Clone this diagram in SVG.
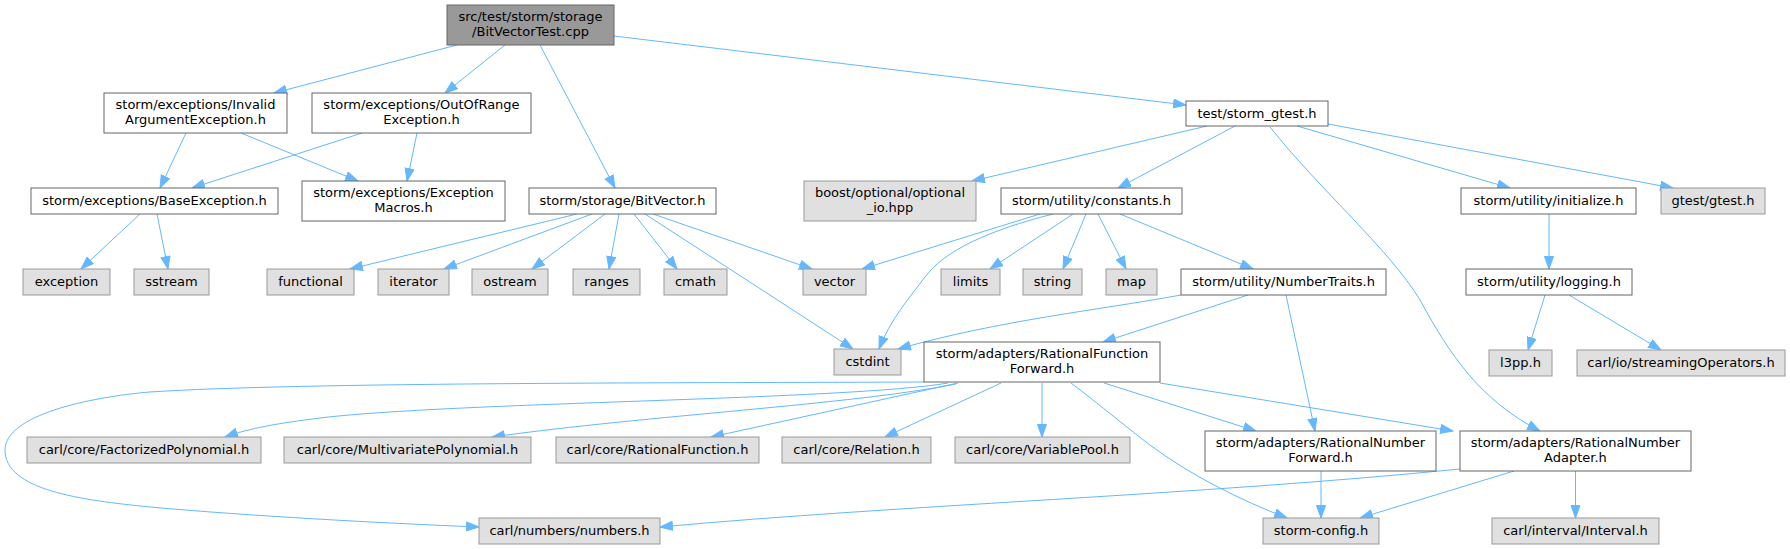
<svg xmlns="http://www.w3.org/2000/svg" width="1790" height="549" viewBox="0 0 1790 549">
<style>
text{font-family:"DejaVu Sans",sans-serif;font-size:13px;fill:#000;text-anchor:middle}
.n rect{fill:#fff;stroke:#666;stroke-width:1}
.g rect{fill:#e0e0e0;stroke:#999;stroke-width:1}
.m rect{fill:#999;stroke:#666;stroke-width:1}
#edges path{fill:none;stroke:#63b8ff;stroke-width:1;marker-end:url(#ah)}
</style>
<defs>
<marker id="ah" markerUnits="userSpaceOnUse" markerWidth="15" markerHeight="12" refX="13" refY="5" orient="auto">
<path d="M0.5,0.5 L13,5 L0.5,9.5 z" fill="#63b8ff" stroke="#63b8ff" stroke-width="1"/>
</marker>
</defs>
<rect width="1790" height="549" fill="#fff"/>
<g id="edges">
<path d="M457,45 L274,93"/>
<path d="M505,45 L445,93"/>
<path d="M540,45 L615,188"/>
<path d="M614,36 L1186,105"/>
<path d="M186,133 L160,188"/>
<path d="M241,133 L358,181"/>
<path d="M362,133 L192,188"/>
<path d="M417,133 L407,181"/>
<path d="M140,214 L81,269"/>
<path d="M157,214 L168,269"/>
<path d="M577,214 L350,269"/>
<path d="M592,214 L444,269"/>
<path d="M605,214 L532,269"/>
<path d="M619,214 L609,269"/>
<path d="M634,214 L677,269"/>
<path d="M645,214 L853,349"/>
<path d="M653,214 L812,269"/>
<path d="M1207,126 L972,181"/>
<path d="M1235,126 L1118,188"/>
<path d="M1297,126 L1510,188"/>
<path d="M1328,124 L1673,188"/>
<path d="M1270,127 C1320,190 1390,250 1420,300 C1450,355 1480,400 1540,431"/>
<path d="M1040,214 L862,269"/>
<path d="M1053,214 C990,230 945,250 925,277 C910,297 890,320 879,349"/>
<path d="M1073,214 L990,269"/>
<path d="M1086,214 L1063,269"/>
<path d="M1098,214 L1126,269"/>
<path d="M1120,214 L1253,269"/>
<path d="M1549,214 L1549,269"/>
<path d="M1545,295 L1528,350"/>
<path d="M1569,295 L1661,350"/>
<path d="M1181,295 C1100,310 1000,320 898,349"/>
<path d="M1248,295 L1103,342"/>
<path d="M1286,295 L1315,431"/>
<path d="M924,382 C700,383 300,382 150,392 C90,397 5,415 5,450 C5,490 80,500 150,507 C250,516 380,523 479,527"/>
<path d="M948,383 C850,400 450,402 320,418 C280,423 250,428 225,437"/>
<path d="M956,384 C850,405 650,415 492,437"/>
<path d="M958,383 L711,437"/>
<path d="M1001,383 L885,437"/>
<path d="M1042,383 L1042,437"/>
<path d="M1071,383 C1100,405 1130,430 1150,445 C1190,475 1240,500 1287,518"/>
<path d="M1104,383 L1256,431"/>
<path d="M1160,383 L1453,431"/>
<path d="M1321,471 L1321,518"/>
<path d="M1460,469 C1200,495 900,505 660,527"/>
<path d="M1514,471 L1360,518"/>
<path d="M1575.5,471 L1575.5,518"/>
</g>
<g id="main" class="m"><rect x="447" y="5" width="167" height="40"/><text x="530.5" y="21">src/test/storm/storage</text><text x="530.5" y="36">/BitVectorTest.cpp</text></g>
<g id="iae" class="n"><rect x="104" y="93" width="183" height="40"/><text x="195.5" y="109">storm/exceptions/Invalid</text><text x="195.5" y="124">ArgumentException.h</text></g>
<g id="oor" class="n"><rect x="312" y="93" width="219" height="40"/><text x="421.5" y="109">storm/exceptions/OutOfRange</text><text x="421.5" y="124">Exception.h</text></g>
<g id="baseex" class="n"><rect x="31" y="188" width="247" height="26"/><text x="154.5" y="205">storm/exceptions/BaseException.h</text></g>
<g id="excmacros" class="n"><rect x="302" y="181" width="203" height="40"/><text x="403.5" y="197">storm/exceptions/Exception</text><text x="403.5" y="212">Macros.h</text></g>
<g id="bitvector" class="n"><rect x="529" y="188" width="187" height="26"/><text x="622.5" y="205">storm/storage/BitVector.h</text></g>
<g id="stormgtest" class="n"><rect x="1186" y="101" width="142" height="25"/><text x="1257" y="118">test/storm_gtest.h</text></g>
<g id="boost" class="g"><rect x="804" y="181" width="172" height="40"/><text x="890" y="197">boost/optional/optional</text><text x="890" y="212">_io.hpp</text></g>
<g id="constants" class="n"><rect x="1001" y="188" width="181" height="26"/><text x="1091.5" y="205">storm/utility/constants.h</text></g>
<g id="initialize" class="n"><rect x="1461" y="188" width="175" height="26"/><text x="1548.5" y="205">storm/utility/initialize.h</text></g>
<g id="gtest" class="g"><rect x="1661" y="188" width="104" height="26"/><text x="1713" y="205">gtest/gtest.h</text></g>
<g id="exception" class="g"><rect x="23" y="269" width="87" height="26"/><text x="66.5" y="286">exception</text></g>
<g id="sstream" class="g"><rect x="134" y="269" width="75" height="26"/><text x="171.5" y="286">sstream</text></g>
<g id="functional" class="g"><rect x="267" y="269" width="87" height="26"/><text x="310.5" y="286">functional</text></g>
<g id="iterator" class="g"><rect x="378" y="269" width="71" height="26"/><text x="413.5" y="286">iterator</text></g>
<g id="ostream" class="g"><rect x="472" y="269" width="76" height="26"/><text x="510" y="286">ostream</text></g>
<g id="ranges" class="g"><rect x="573" y="269" width="67" height="26"/><text x="606.5" y="286">ranges</text></g>
<g id="cmath" class="g"><rect x="664" y="269" width="63" height="26"/><text x="695.5" y="286">cmath</text></g>
<g id="vector" class="g"><rect x="803" y="269" width="63" height="26"/><text x="834.5" y="286">vector</text></g>
<g id="limits" class="g"><rect x="941" y="269" width="59" height="26"/><text x="970.5" y="286">limits</text></g>
<g id="string" class="g"><rect x="1023" y="269" width="59" height="26"/><text x="1052.5" y="286">string</text></g>
<g id="map" class="g"><rect x="1106" y="269" width="51" height="26"/><text x="1131.5" y="286">map</text></g>
<g id="numbertraits" class="n"><rect x="1181" y="269" width="205" height="26"/><text x="1283.5" y="286">storm/utility/NumberTraits.h</text></g>
<g id="logging" class="n"><rect x="1466" y="269" width="166" height="26"/><text x="1549" y="286">storm/utility/logging.h</text></g>
<g id="cstdint" class="g"><rect x="834" y="349" width="67" height="26"/><text x="867.5" y="366">cstdint</text></g>
<g id="rff" class="n"><rect x="924" y="342" width="236" height="40"/><text x="1042" y="358">storm/adapters/RationalFunction</text><text x="1042" y="373">Forward.h</text></g>
<g id="l3pp" class="g"><rect x="1489" y="350" width="63" height="26"/><text x="1520.5" y="367">l3pp.h</text></g>
<g id="streamingops" class="g"><rect x="1577" y="350" width="208" height="26"/><text x="1681" y="367">carl/io/streamingOperators.h</text></g>
<g id="factorized" class="g"><rect x="27" y="437" width="234" height="26"/><text x="144" y="454">carl/core/FactorizedPolynomial.h</text></g>
<g id="multivariate" class="g"><rect x="284" y="437" width="247" height="26"/><text x="407.5" y="454">carl/core/MultivariatePolynomial.h</text></g>
<g id="rationalfunction" class="g"><rect x="556" y="437" width="203" height="26"/><text x="657.5" y="454">carl/core/RationalFunction.h</text></g>
<g id="relation" class="g"><rect x="782" y="437" width="149" height="26"/><text x="856.5" y="454">carl/core/Relation.h</text></g>
<g id="variablepool" class="g"><rect x="955" y="437" width="175" height="26"/><text x="1042.5" y="454">carl/core/VariablePool.h</text></g>
<g id="rnf" class="n"><rect x="1205" y="431" width="231" height="40"/><text x="1320.5" y="447">storm/adapters/RationalNumber</text><text x="1320.5" y="462">Forward.h</text></g>
<g id="rna" class="n"><rect x="1460" y="431" width="231" height="40"/><text x="1575.5" y="447">storm/adapters/RationalNumber</text><text x="1575.5" y="462">Adapter.h</text></g>
<g id="numbers" class="g"><rect x="479" y="518" width="181" height="26"/><text x="569.5" y="535">carl/numbers/numbers.h</text></g>
<g id="stormconfig" class="g"><rect x="1263" y="518" width="116" height="26"/><text x="1321" y="535">storm-config.h</text></g>
<g id="interval" class="g"><rect x="1492" y="518" width="167" height="26"/><text x="1575.5" y="535">carl/interval/Interval.h</text></g>
</svg>
